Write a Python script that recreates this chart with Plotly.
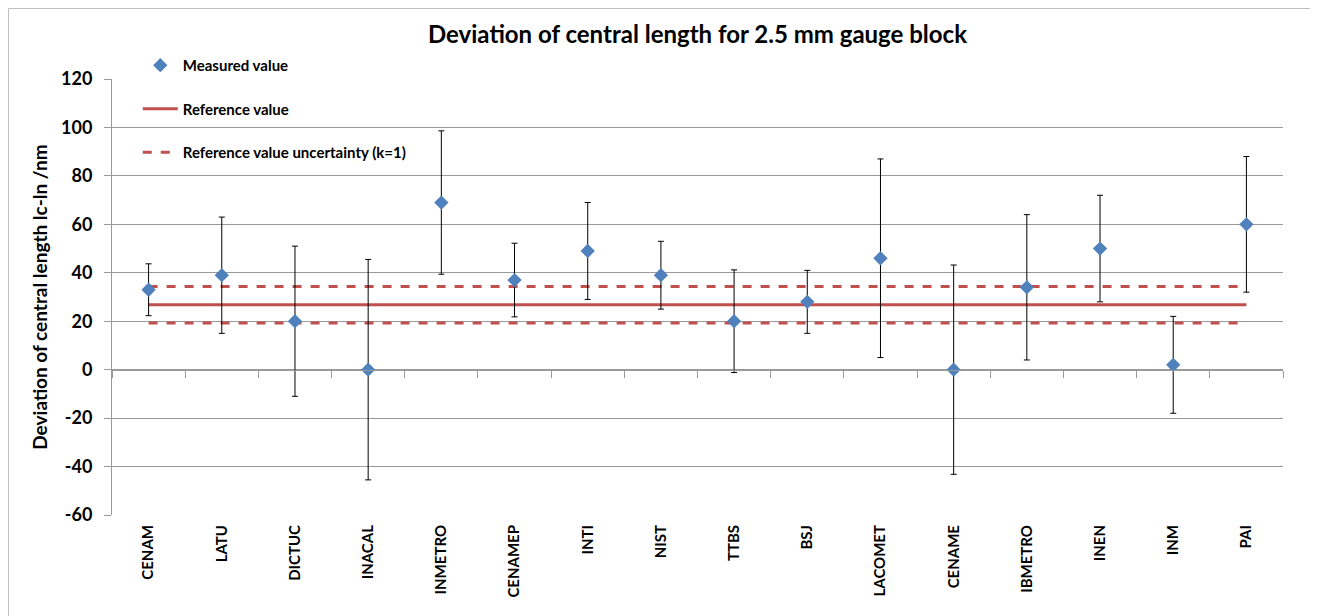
import plotly.graph_objects as go

# ---- data ----
labs = ["CENAM", "LATU", "DICTUC", "INACAL", "INMETRO", "CENAMEP", "INTI", "NIST",
        "TTBS", "BSJ", "LACOMET", "CENAME", "IBMETRO", "INEN", "INM", "PAI"]
measured = [33, 39, 20, 0, 69, 37, 49, 39, 20, 28, 46, 0, 34, 50, 2, 60]
meas_unc = [10.7, 24, 31, 45.5, 29.6, 15.2, 20, 14, 21.2, 13, 41, 43.2, 30, 22, 20, 28]
ref_value = 26.8
ref_unc = 7.5
y_ticks = [120, 100, 80, 60, 40, 20, 0, -20, -40, -60]

FONT = "Lato"
GRID = "#9a9a9a"
RED = "#C0504D"
BLUE = "#4F81BD"

W, H = 1310, 608
ML, MR, MT, MB = 104, 35, 71, 101
PW = W - ML - MR
PH = H - MT - MB

n = len(labs)
ref_line = [ref_value] * n
ref_hi = [ref_value + ref_unc] * n
ref_lo = [ref_value - ref_unc] * n
boundaries = [i - 0.5 for i in range(n + 1)]

fig = go.Figure()

fig.add_trace(go.Scatter(
    x=labs, y=ref_line, mode="lines", name="<b>Reference value</b>",
    line=dict(color=RED, width=3), legendgroup="b"))
fig.add_trace(go.Scatter(
    x=labs, y=ref_hi, mode="lines", name="<b>Reference value uncertainty (k=1)</b>",
    line=dict(color=RED, width=3, dash="dash"), legendgroup="c"))
fig.add_trace(go.Scatter(
    x=labs, y=ref_lo, mode="lines", showlegend=False,
    line=dict(color=RED, width=3, dash="dash"), legendgroup="c"))
fig.add_trace(go.Scatter(
    x=labs, y=measured, mode="markers", name="<b>Measured value</b>",
    marker=dict(symbol="diamond", size=11, color=BLUE),
    error_y=dict(type="data", array=meas_unc, visible=True,
                 color="black", thickness=1, width=3),
    legendgroup="a", legendrank=1))
# helper axis for the category boundary ticks along y = 0
fig.add_trace(go.Scatter(x=boundaries, y=[None] * len(boundaries), xaxis="x2",
                         showlegend=False, hoverinfo="skip", mode="markers"))

fig.update_layout(
    width=W, height=H,
    paper_bgcolor="white", plot_bgcolor="white",
    margin=dict(l=ML, r=MR, t=MT, b=MB),
    font=dict(family=FONT, color="black"),
    title=dict(text="<b>Deviation of central length for 2.5 mm gauge block</b>",
               x=0.5, xref="paper", y=1 - 27 / H, yanchor="middle",
               font=dict(size=24, family=FONT, color="black")),
    showlegend=True,
    legend=dict(x=0.022, y=1.069, xanchor="left", yanchor="top",
                bgcolor="rgba(0,0,0,0)", traceorder="grouped",
                tracegroupgap=21, font=dict(size=15, family=FONT),
                itemwidth=35),
    xaxis=dict(type="category", range=[-0.5, n - 0.5],
               tickangle=-90, showgrid=False, showline=False, ticks="",
               tickvals=labs, ticktext=[f"<b>{c}</b>" for c in labs],
               tickfont=dict(size=15, family=FONT),
               ticklabelstandoff=6),
    xaxis2=dict(overlaying="x", anchor="free", position=60 / 180,
                range=[-0.5, n - 0.5], tickvals=boundaries,
                ticks="outside", ticklen=7, tickcolor=GRID, tickwidth=1,
                showticklabels=False, showgrid=False, showline=True,
                linecolor=GRID, linewidth=1, zeroline=False),
    yaxis=dict(range=[-60, 120], tickvals=y_ticks,
               ticktext=[f"<b>{v}</b>" for v in y_ticks],
               showgrid=True, gridcolor=GRID, gridwidth=1,
               zeroline=False, showline=True, linecolor=GRID, linewidth=1,
               ticks="outside", ticklen=7, tickcolor=GRID,
               tickfont=dict(size=18, family=FONT),
               ticklabelstandoff=8,
               title=dict(text="<b>Deviation of central length lc-ln /nm</b>",
                          font=dict(size=19, family=FONT), standoff=8)),
)

# chart border
fig.add_shape(type="rect", xref="paper", yref="paper",
              x0=(0.5 - ML) / PW, x1=(W - 1.5 - ML) / PW,
              y0=(PH + MT - H - 30) / PH, y1=(PH + MT - 0.5) / PH,
              line=dict(color="#BFBFBF", width=1), layer="below")

fig.write_html("out.html")
